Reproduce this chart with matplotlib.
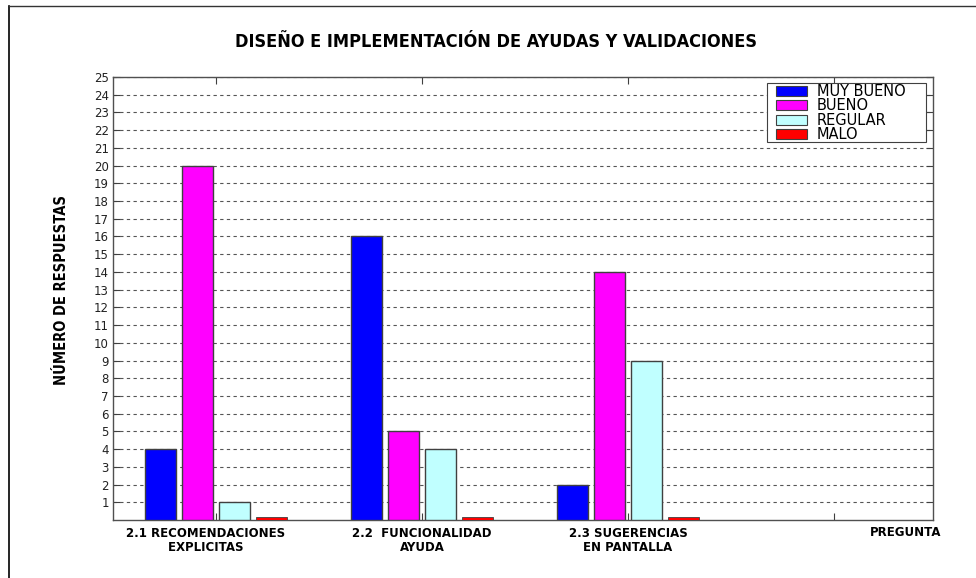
import matplotlib
matplotlib.use("Agg")
import matplotlib.pyplot as plt
from matplotlib.lines import Line2D
from matplotlib.patches import Rectangle
import numpy as np

categories = ["2.1 RECOMENDACIONES     \nEXPLICITAS     ", "2.2  FUNCIONALIDAD\nAYUDA", "2.3 SUGERENCIAS\nEN PANTALLA", ""]
series_names = ["MUY BUENO", "BUENO", "REGULAR", "MALO"]
muy_bueno = [4, 16, 2]
bueno = [20, 5, 14]
regular = [1, 4, 9]
malo = [0.15, 0.15, 0.15]
colors = ["#0000FF", "#FF00FF", "#C0FFFF", "#FF0000"]
yticks = list(range(1, 26))

plt.rcParams['font.family'] = ['DejaVu Sans']

W, H = 976, 578
fig = plt.figure(figsize=(9.76, 5.78), dpi=100)
ax = fig.add_axes([113/W, 1-520/H, (933-113)/W, (520-77)/H])

x = np.arange(1, 4)
offsets = [-0.27, -0.09, 0.09, 0.27]
width = 0.15
edge_w = [1.0, 1.0, 1.0, 0.6]
for vals, off, col, name, lw in zip([muy_bueno, bueno, regular, malo], offsets, colors, series_names, edge_w):
    ax.bar(x + off, vals, width=width, color=col, edgecolor="#404040", linewidth=lw, label=name, zorder=3)

ax.set_xlim(0.5, 4.48)
ax.set_ylim(0, 25)
ax.set_yticks(yticks)
ax.set_yticklabels([str(v) for v in yticks], fontsize=8.5, color='#222222')
ax.set_xticks([1, 2, 3, 4])
ax.set_xticklabels(categories, fontsize=8.5, fontweight='bold', linespacing=1.15)
ax.tick_params(direction='in', top=True, right=True, length=5, width=0.8, color='#404040')
ax.tick_params(axis='x', pad=5)
ax.tick_params(axis='y', pad=3)
for s in ax.spines.values():
    s.set_color('#505050')
    s.set_linewidth(1.0)
ax.yaxis.grid(True, linestyle=(0, (3, 3)), color='#555555', linewidth=0.8, zorder=1)
ax.set_axisbelow(True)

fig.text(906/W, 1-533/H, "PREGUNTA", ha='center', va='center',
         fontsize=8.5, fontweight='bold')

# legend frame drawn separately, legend content placed inside
frame = Rectangle((767/W, 1-142/H), (926-767)/W, (142-83)/H, transform=fig.transFigure,
                  facecolor='white', edgecolor='#404040', linewidth=0.8, zorder=4)
ax.add_artist(frame)
frame.set_clip_on(False)
leg = ax.legend(loc='upper left', bbox_to_anchor=(776/W, 1-84/H), bbox_transform=fig.transFigure,
                prop={'size': 10.5}, frameon=False,
                handlelength=2.12, handleheight=0.68, labelspacing=-0.04, borderpad=0,
                handletextpad=0.68, borderaxespad=0)
leg.set_zorder(5)
for h in leg.legend_handles:
    h.set_edgecolor('#404040')
    h.set_linewidth(0.8)

fig.text(496/W, 1-42/H, "DISEÑO E IMPLEMENTACIÓN DE AYUDAS Y VALIDACIONES",
         ha='center', va='center', fontsize=13, fontweight='bold', fontstretch='condensed')
fig.text(62/W, 1-290/H, "NÚMERO DE RESPUESTAS", ha='center', va='center', rotation=90,
         fontsize=10.5, fontweight='bold', fontstretch='condensed')

# figure frame lines (left, top)
fig.add_artist(Line2D([9/W, 9/W], [0, 1-6/H], transform=fig.transFigure, color='black', lw=1.2))
fig.add_artist(Line2D([9/W, 1.0], [1-6/H, 1-6/H], transform=fig.transFigure, color='#333333', lw=1.0))

fig.savefig("out.png", dpi=100)
